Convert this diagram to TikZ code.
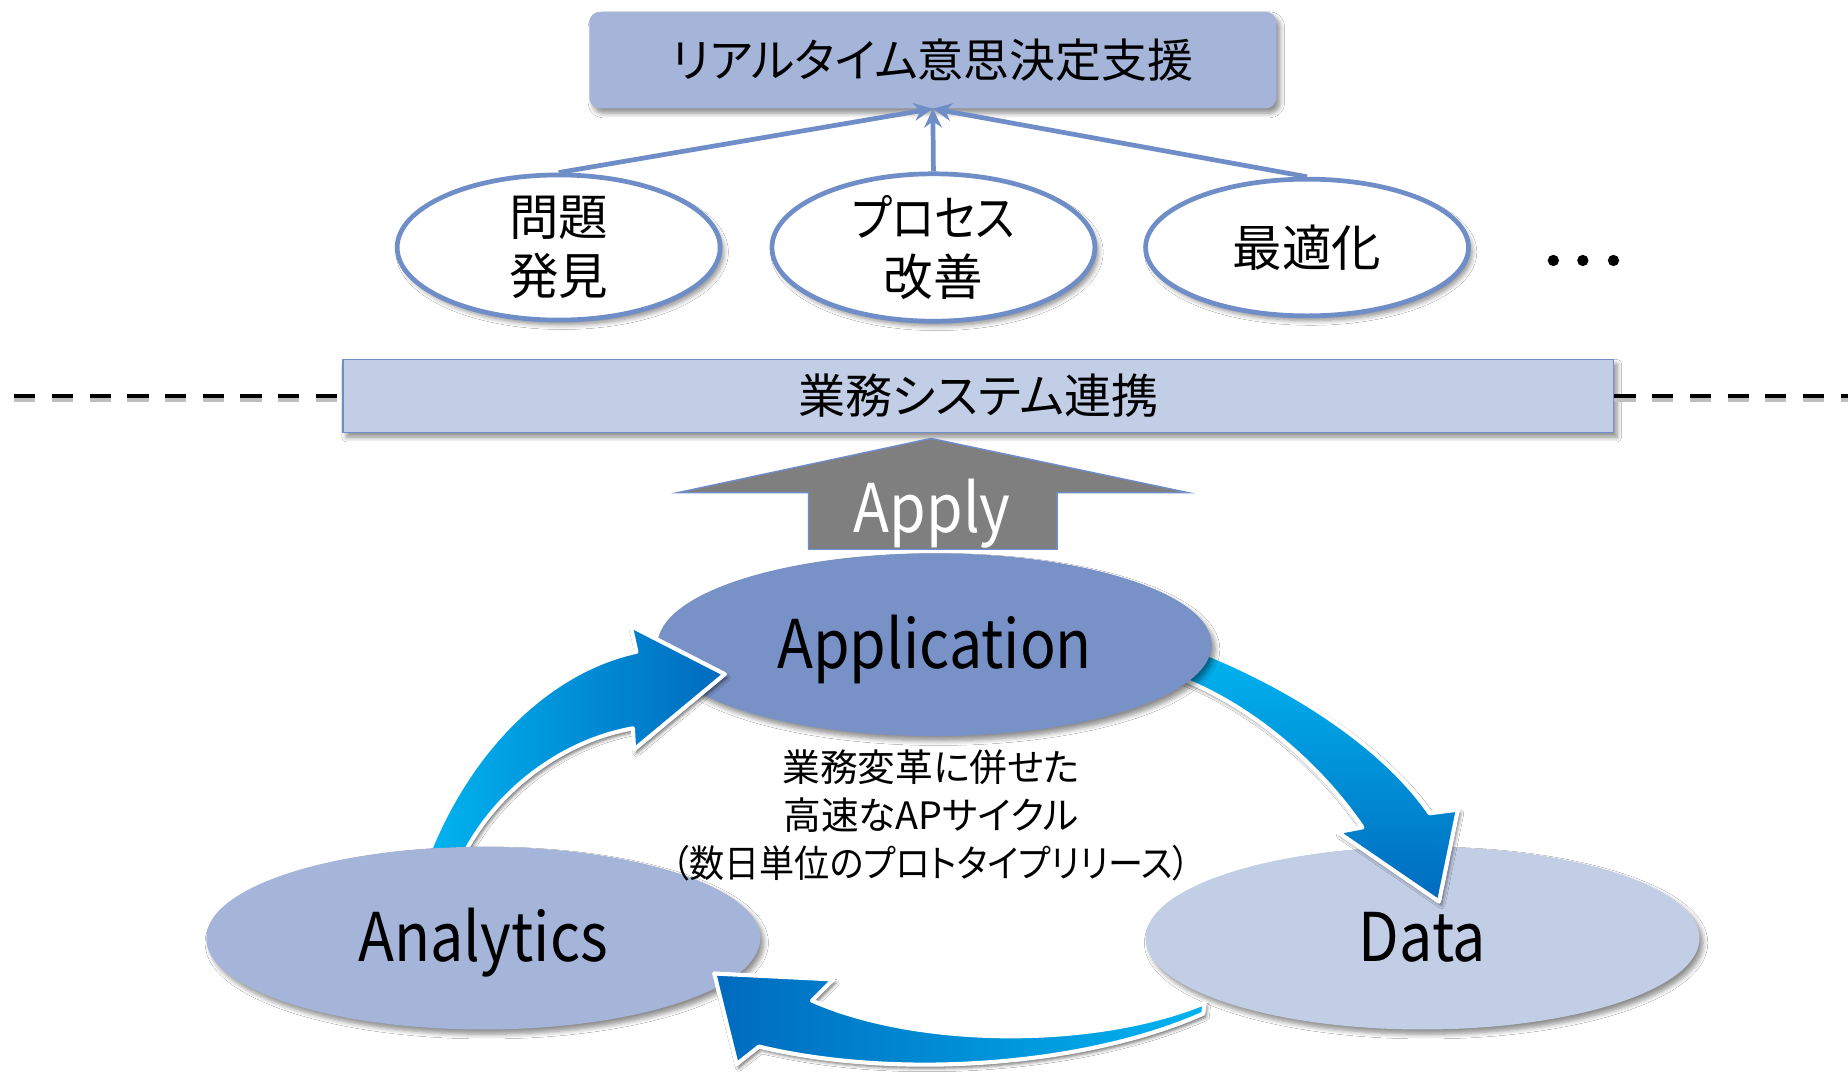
\documentclass[tikz,border=0pt]{standalone}
\usepackage{fontspec}
\setmainfont{Noto Sans CJK JP}[RawFeature=+palt]
\newfontfamily\condfont{Noto Sans CJK JP}[RawFeature=+palt,FakeStretch=0.88]
\newfontfamily\semicond{Noto Sans CJK JP}[RawFeature=+palt,FakeStretch=0.93]
\usetikzlibrary{shapes.geometric,arrows.meta,shadows.blur}
\definecolor{topfill}{RGB}{164,181,217}
\definecolor{midfill}{RGB}{194,206,230}
\definecolor{appfill}{RGB}{120,146,199}
\definecolor{anafill}{RGB}{164,181,217}
\definecolor{datafill}{RGB}{194,206,230}
\definecolor{edgeblue}{RGB}{111,141,198}
\definecolor{cyanlight}{RGB}{0,180,240}
\definecolor{bluedark}{RGB}{0,106,190}
\definecolor{applygray}{RGB}{127,127,127}
\tikzset{
  softshadow/.style={blur shadow={shadow xshift=3pt,shadow yshift=-4pt,shadow blur radius=4pt,shadow blur steps=6,shadow opacity=45}},
  goalbox/.style={rectangle,rounded corners=9pt,fill=topfill,minimum width=583pt,minimum height=82pt,inner sep=0pt,softshadow,font=\fontsize{39}{44}\selectfont},
  smalloval/.style={ellipse,draw=edgeblue,line width=4pt,fill=white,minimum width=274pt,minimum height=116pt,inner sep=0pt,align=center,softshadow,font=\fontsize{42}{50}\selectfont},
  linkbox/.style={rectangle,fill=midfill,draw=edgeblue,line width=1.5pt,minimum width=1078pt,minimum height=62pt,inner sep=0pt,softshadow,font=\fontsize{40}{44}\selectfont},
  bigoval/.style={ellipse,minimum width=470pt,minimum height=155pt,inner sep=0pt,softshadow,text height=51pt,text depth=11pt,font=\condfont\fontsize{57}{60}\selectfont},
  conn/.style={draw=edgeblue,line width=4pt,-{Stealth[length=16pt,width=15pt]}},
  dashline/.style={draw=black,line width=4.2pt,dash pattern=on 18pt off 14pt},
  dashshadow/.style={draw=black!25,line width=4.2pt,dash pattern=on 18pt off 14pt},
  bluearrow/.style={draw=white,line width=3.5pt,line join=round,blur shadow={shadow xshift=2pt,shadow yshift=-3pt,shadow blur radius=3pt,shadow opacity=60}},
  applyarrow/.style={fill=applygray,draw=edgeblue,line width=1.2pt},
}
\begin{document}
\begin{tikzpicture}[x=1pt,y=-1pt]
\useasboundingbox[fill=white] (0,0) rectangle (1568,911);

% top goal box
\node[goalbox] (goal) at (791.5,51) {リアルタイム意思決定支援};

% three ovals
\node[smalloval] (e1) at (474,210) {問題\\発見};
\node[smalloval] (e2) at (792,210) {{\condfont プロセス}\\改善};
\node[smalloval] (e3) at (1109,210) {最適化};
\draw[conn] (e1.north) -- (goal.south);
\draw[conn] (e2.north) -- (goal.south);
\draw[conn] (e3.north) -- (goal.south);

% dots
\fill (1318,221) circle (4.8);
\fill (1343,221) circle (4.8);
\fill (1369,221) circle (4.8);

% system link bar
\node[linkbox] (link) at (830,336) {業務システム連携};
\coordinate (dl) at (12,336);
\coordinate (dr) at (1568,336);
\draw[dashshadow] ([yshift=-3pt]dl) -- ([yshift=-3pt]link.west);
\draw[dashshadow] ([yshift=-3pt]link.east) -- ([yshift=-3pt]dr);
\draw[dashline] (dl) -- (link.west);
\draw[dashline] (link.east) -- (dr);

% Apply arrow
\draw[applyarrow] (790,372) -- (1008,418) -- (897,418) -- (897,466) -- (686,466) -- (686,418) -- (575,418) -- cycle;
\node[text=white,text height=52pt,text depth=11pt,font=\condfont\fontsize{57}{60}\selectfont] (apply) at (791,431) {Apply};

% Data ellipse
\node[bigoval,fill=datafill] (data) at (1207,796) {Data};

% arrow Application -> Data
\path[bluearrow,top color=cyanlight,bottom color=bluedark]
  (1020,553) .. controls (1100,585) and (1175,635) .. (1213,690)
  -- (1237,687) -- (1221,765) -- (1135,706) -- (1156,702)
  .. controls (1122,652) and (1065,600) .. (1000,575) -- cycle;

% Application ellipse
\node[bigoval,fill=appfill] (app) at (793,547) {Application};

% arrow Analytics -> Application
\path[bluearrow,left color=cyanlight,right color=bluedark]
  (362,728) .. controls (400,630) and (470,568) .. (540,553)
  -- (535,531) -- (615,572) -- (538,636) -- (537,618)
  .. controls (480,628) and (422,668) .. (392,728) -- cycle;

% Analytics ellipse
\node[bigoval,fill=anafill] (ana) at (410,796) {Analytics};

% arrow Data -> Analytics
\path[bluearrow,left color=bluedark,right color=cyanlight]
  (1022,851) .. controls (930,889) and (780,889) .. (689,849)
  -- (707,831) -- (606,826) -- (625,903) -- (644,888)
  .. controls (760,916) and (920,905) .. (1021,860) -- cycle;

% centre text
\node[align=center,font=\fontsize{32}{40.5}\selectfont] (cyc) at (790,692) {業務変革に併せた\\高速なAPサイクル\\{\semicond （数日単位のプロトタイプリリース）}};
\end{tikzpicture}
\end{document}
